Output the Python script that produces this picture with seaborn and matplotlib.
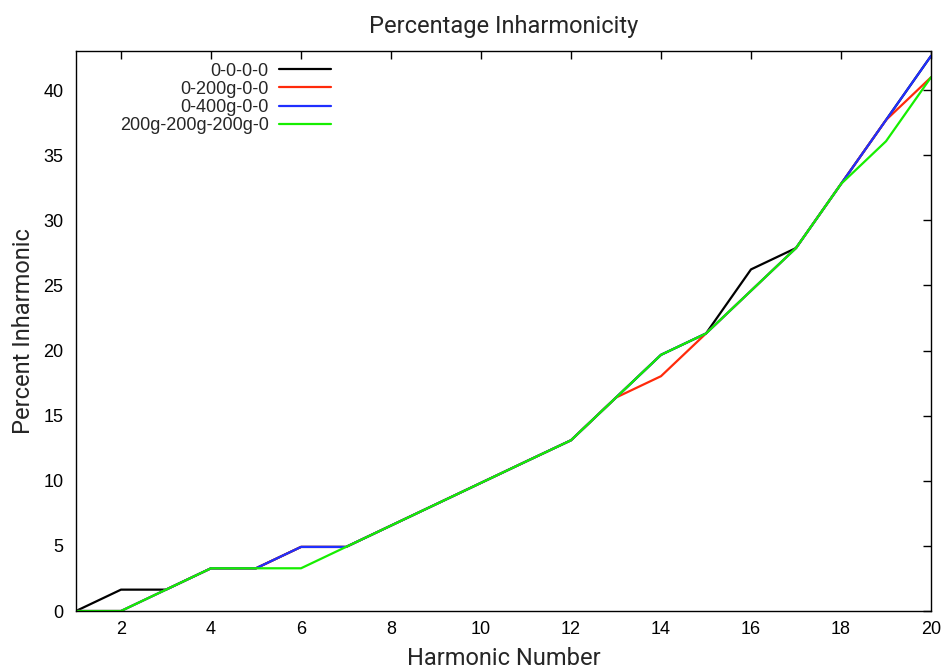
import matplotlib
matplotlib.use("Agg")
import matplotlib.pyplot as plt
import seaborn as sns
import pandas as pd

harmonics = list(range(1, 21))
series_names = ["0-0-0-0", "0-200g-0-0", "0-400g-0-0", "200g-200g-200g-0"]
s_black = [0, 1.64, 1.64, 3.28, 3.28, 4.92, 4.92, 6.56, 8.20, 9.84, 11.48, 13.11,
           16.39, 19.67, 21.31, 26.23, 27.87, 32.79, 37.70, 42.62]
s_red = [0, 0, 1.64, 3.28, 3.28, 4.92, 4.92, 6.56, 8.20, 9.84, 11.48, 13.11,
         16.39, 18.03, 21.31, 24.59, 27.87, 32.79, 37.70, 40.98]
s_blue = [0, 0, 1.64, 3.28, 3.28, 4.92, 4.92, 6.56, 8.20, 9.84, 11.48, 13.11,
          16.39, 19.67, 21.31, 24.59, 27.87, 32.79, 37.70, 42.62]
s_green = [0, 0, 1.64, 3.28, 3.28, 3.28, 4.92, 6.56, 8.20, 9.84, 11.48, 13.11,
           16.39, 19.67, 21.31, 24.59, 27.87, 32.79, 36.07, 40.98]
colors = ["#000000", "#ff2a0a", "#1f2fff", "#16ee00"]
x_ticks = list(range(2, 21, 2))
y_ticks = list(range(0, 41, 5))

rows = []
for name, vals in zip(series_names, [s_black, s_red, s_blue, s_green]):
    for h, v in zip(harmonics, vals):
        rows.append({"Harmonic": h, "Value": v, "Series": name})
df = pd.DataFrame(rows)

sns.set_theme(style="white")
plt.rcParams["font.family"] = ["Liberation Sans", "DejaVu Sans"]

fig = plt.figure(figsize=(9.47, 6.72), dpi=100)
ax = fig.add_axes([76 / 947, 61 / 672, 855 / 947, 560 / 672])

sns.lineplot(data=df, x="Harmonic", y="Value", hue="Series", hue_order=series_names,
             palette=colors, linewidth=1.6, ax=ax, legend=False)

ax.set_xlim(1, 20)
ax.set_ylim(0, 43)
ax.set_xticks(x_ticks)
ax.set_yticks(y_ticks)
ax.tick_params(direction="in", length=5.5, width=1, top=True, right=True,
               labelsize=13, colors="black")
ax.tick_params(axis="y", pad=9)
ax.tick_params(axis="x", pad=7)
for sp in ax.spines.values():
    sp.set_visible(True)
    sp.set_color("black")
    sp.set_linewidth(1.0)

lab_font = dict(family=["Roboto", "DejaVu Sans"], size=17)
ax.set_title("Percentage Inharmonicity", pad=13, **lab_font)
ax.set_xlabel("Harmonic Number", labelpad=7, **lab_font)
ax.set_ylabel("Percent Inharmonic", labelpad=6, **lab_font)

from matplotlib.lines import Line2D
handles = [Line2D([0], [0], color=c, lw=1.6) for c in colors]
leg = fig.legend(handles, series_names, loc="upper right",
                 bbox_to_anchor=(331 / 947, 609.5 / 672), frameon=False,
                 markerfirst=False, fontsize=13, handlelength=2.9,
                 handletextpad=0.55, labelspacing=0.07, borderpad=0,
                 borderaxespad=0)

fig.savefig("out.png", dpi=100)
